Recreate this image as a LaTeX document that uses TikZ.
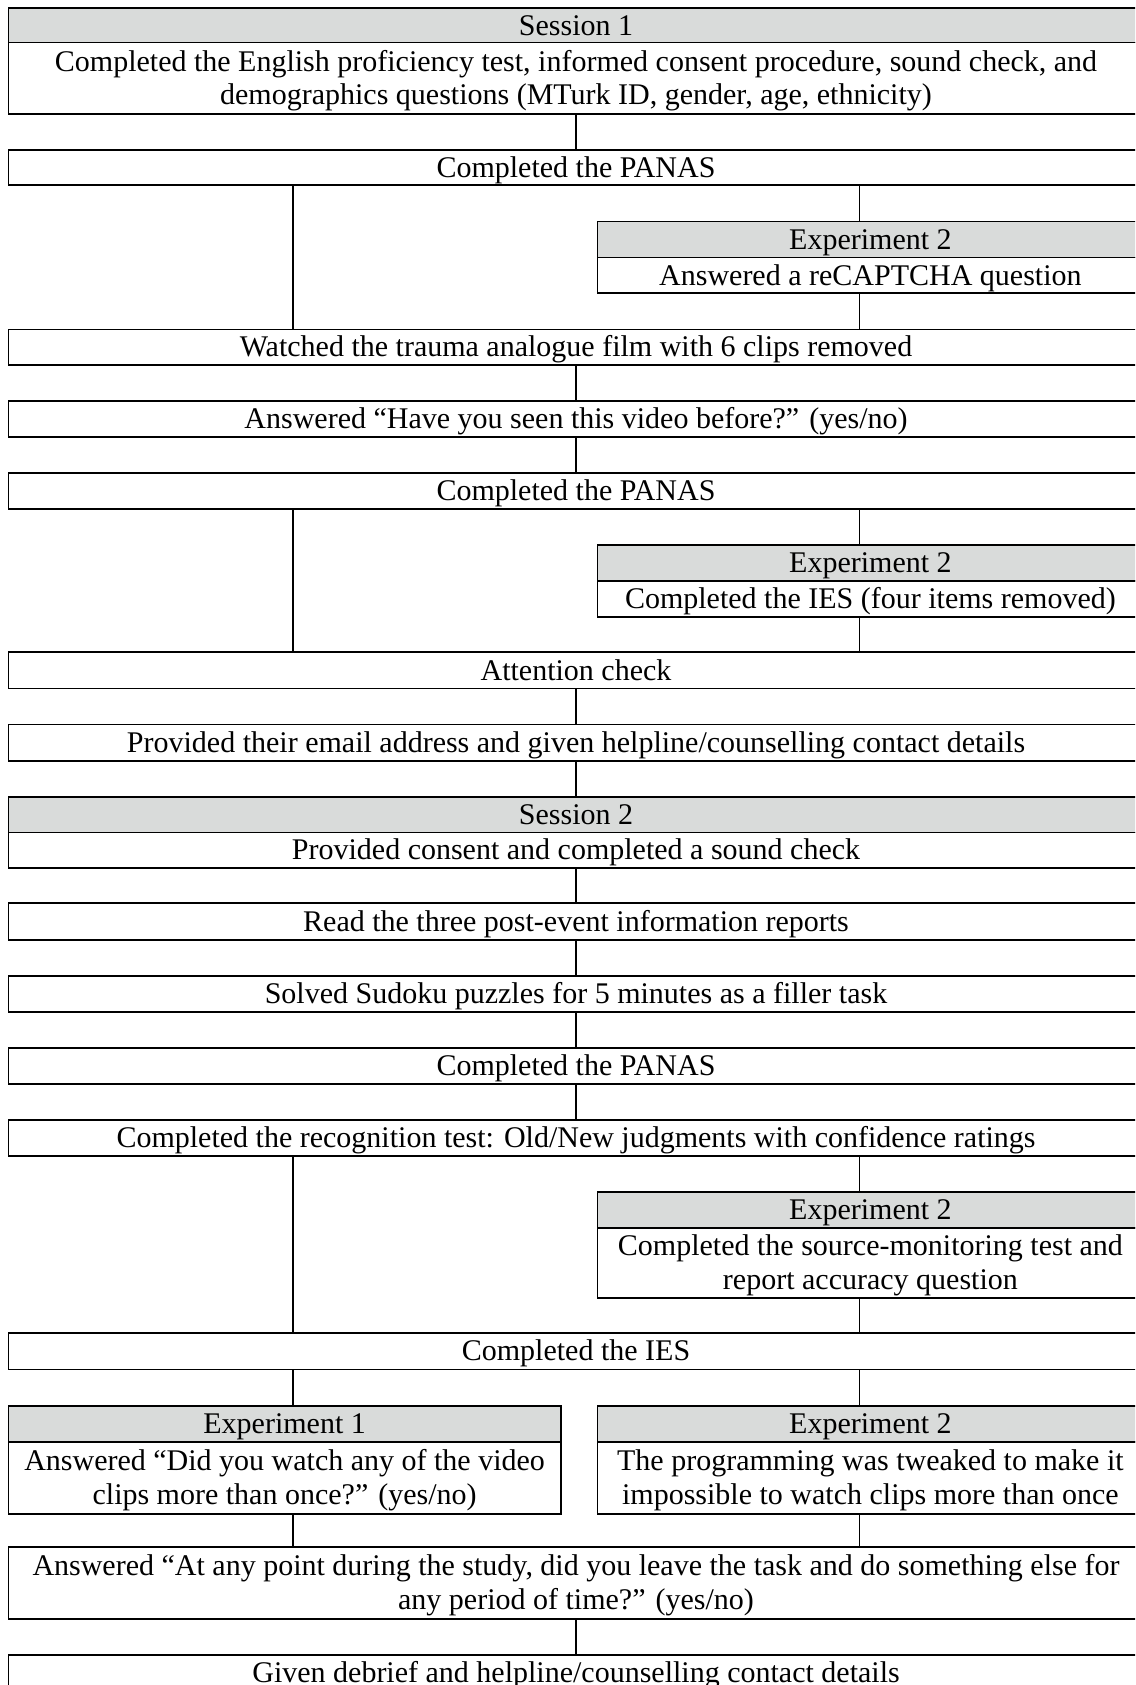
\documentclass[tikz,border=0pt]{standalone}
\usepackage{fontspec}
\setmainfont{Liberation Serif}
\definecolor{hdrgrey}{RGB}{217,219,218}
\newcommand{\tst}{\rule[-6pt]{0pt}{32pt}}
\tikzset{
  box/.style={draw=black, line width=1.6pt, inner sep=0pt, outer sep=0pt, align=center,
    anchor=north west, font=\fontsize{30}{32}\selectfont, fill=white},
  mainbox/.style={box, minimum width=1135pt},
  leftbox/.style={box, minimum width=552.2pt},
  rightbox/.style={box, minimum width=546.2pt},
  hdr/.style={fill=hdrgrey},
  conn/.style={draw=black, line width=1.6pt},
}
\begin{document}
\begin{tikzpicture}[x=1pt, y=-1pt]
\useasboundingbox (0,0) rectangle (1135,1685);
\clip (0,0) rectangle (1135,1685);
\fill[white] (0,0) rectangle (1135,1685);
\coordinate (cL) at (292.7,0);
\coordinate (cM) at (576,0);
\coordinate (cR) at (859.3,0);
% Session 1
\node[mainbox, hdr, minimum height=34.7pt] (s1h) at (8.5,8) {\tst Session 1};
\node[mainbox, minimum height=71.3pt] (s1b) at (8.5,42.7) {\tst Completed the English proficiency test, informed consent procedure, sound check, and\\\tst demographics questions (MTurk ID, gender, age, ethnicity)};
\node[mainbox, minimum height=35.3pt] (panas1) at (8.5,150) {\tst Completed the PANAS};
\node[rightbox, hdr, minimum height=36pt] (e2ah) at (597.3,221.7) {\tst Experiment 2};
\node[rightbox, minimum height=35.3pt] (e2ab) at (597.3,257.7) {\tst Answered a reCAPTCHA question};
\node[mainbox, minimum height=35.7pt] (watched) at (8.5,329.3) {\tst Watched the trauma analogue film with 6 clips removed};
\node[mainbox, minimum height=35.7pt] (seen) at (8.5,401) {\tst Answered “Have you seen this video before?” (yes/no)};
\node[mainbox, minimum height=36.3pt] (panas2) at (8.5,472.7) {\tst Completed the PANAS};
\node[rightbox, hdr, minimum height=36pt] (e2bh) at (597.3,545) {\tst Experiment 2};
\node[rightbox, minimum height=36pt] (e2bb) at (597.3,581) {\tst Completed the IES (four items removed)};
\node[mainbox, minimum height=36.6pt] (attn) at (8.5,651.7) {\tst Attention check};
\node[mainbox, minimum height=36.4pt] (email) at (8.5,724.3) {\tst Provided their email address and given helpline/counselling contact details};
% Session 2
\node[mainbox, hdr, minimum height=35.6pt] (s2h) at (8.5,796.7) {\tst Session 2};
\node[mainbox, minimum height=35.7pt] (s2b) at (8.5,832.3) {\tst Provided consent and completed a sound check};
\node[mainbox, minimum height=37pt] (read) at (8.5,903) {\tst Read the three post-event information reports};
\node[mainbox, minimum height=36pt] (sudoku) at (8.5,976) {\tst Solved Sudoku puzzles for 5 minutes as a filler task};
\node[mainbox, minimum height=36pt] (panas3) at (8.5,1048) {\tst Completed the PANAS};
\node[mainbox, minimum height=36pt] (recog) at (8.5,1120) {\tst Completed the recognition test: Old/New judgments with confidence ratings};
\node[rightbox, hdr, minimum height=36pt] (e2ch) at (597.3,1192) {\tst Experiment 2};
\node[rightbox, minimum height=69.7pt] (e2cb) at (597.3,1228) {\tst Completed the source-monitoring test and\\\tst report accuracy question};
\node[mainbox, minimum height=36.3pt] (ies) at (8.5,1333) {\tst Completed the IES};
\node[leftbox, hdr, minimum height=36pt] (e1h) at (8.5,1405.7) {\tst Experiment 1};
\node[leftbox, minimum height=72.3pt] (e1b) at (8.5,1441.7) {\tst Answered “Did you watch any of the video\\\tst clips more than once?” (yes/no)};
\node[rightbox, hdr, minimum height=36pt] (e2dh) at (597.3,1405.7) {\tst Experiment 2};
\node[rightbox, minimum height=72.3pt] (e2db) at (597.3,1441.7) {\tst The programming was tweaked to make it\\\tst impossible to watch clips more than once};
\node[mainbox, minimum height=72.3pt] (ans) at (8.5,1546.7) {\tst Answered “At any point during the study, did you leave the task and do something else for\\\tst any period of time?” (yes/no)};
\node[mainbox, minimum height=36pt] (given) at (8.5,1655) {\tst Given debrief and helpline/counselling contact details};
% connectors
\draw[conn] (s1b.south -| cM) -- (panas1.north -| cM);
\draw[conn] (panas1.south -| cL) -- (watched.north -| cL);
\draw[conn] (panas1.south -| cR) -- (e2ah.north -| cR);
\draw[conn] (e2ab.south -| cR) -- (watched.north -| cR);
\draw[conn] (watched.south -| cM) -- (seen.north -| cM);
\draw[conn] (seen.south -| cM) -- (panas2.north -| cM);
\draw[conn] (panas2.south -| cL) -- (attn.north -| cL);
\draw[conn] (panas2.south -| cR) -- (e2bh.north -| cR);
\draw[conn] (e2bb.south -| cR) -- (attn.north -| cR);
\draw[conn] (attn.south -| cM) -- (email.north -| cM);
\draw[conn] (email.south -| cM) -- (s2h.north -| cM);
\draw[conn] (s2b.south -| cM) -- (read.north -| cM);
\draw[conn] (read.south -| cM) -- (sudoku.north -| cM);
\draw[conn] (sudoku.south -| cM) -- (panas3.north -| cM);
\draw[conn] (panas3.south -| cM) -- (recog.north -| cM);
\draw[conn] (recog.south -| cL) -- (ies.north -| cL);
\draw[conn] (recog.south -| cR) -- (e2ch.north -| cR);
\draw[conn] (e2cb.south -| cR) -- (ies.north -| cR);
\draw[conn] (ies.south -| cL) -- (e1h.north -| cL);
\draw[conn] (ies.south -| cR) -- (e2dh.north -| cR);
\draw[conn] (e1b.south -| cL) -- (ans.north -| cL);
\draw[conn] (e2db.south -| cR) -- (ans.north -| cR);
\draw[conn] (ans.south -| cM) -- (given.north -| cM);
\end{tikzpicture}
\end{document}
